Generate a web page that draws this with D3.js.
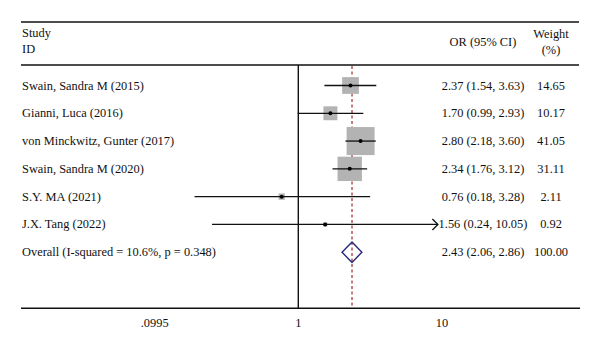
<!DOCTYPE html>
<html>
<head>
<meta charset="utf-8">
<script src="https://cdn.jsdelivr.net/npm/d3@7"></script>
<style>
  body { margin: 0; background: #fff; }
  text { font-family: "Liberation Serif", "DejaVu Serif", serif; fill: #111; }
</style>
</head>
<body>
<div id="chart"></div>
<script>
const studies = ["Swain, Sandra M (2015)", "Gianni, Luca (2016)", "von Minckwitz, Gunter (2017)",
  "Swain, Sandra M (2020)", "S.Y. MA (2021)", "J.X. Tang (2022)"];
const orValues = [2.37, 1.70, 2.80, 2.34, 0.76, 1.56];
const ciLow    = [1.54, 0.99, 2.18, 1.76, 0.18, 0.24];
const ciHigh   = [3.63, 2.93, 3.60, 3.12, 3.28, 10.05];
const weights  = [14.65, 10.17, 41.05, 31.11, 2.11, 0.92];
const overallLabel = "Overall (I-squared = 10.6%, p = 0.348)";
const overall = { or: 2.43, lo: 2.06, hi: 2.86, weight: 100.00 };
const xTicks = [0.0995, 1, 10.05];
const xTickLabels = [".0995", "1", "10"];

const W = 600, H = 348;
const svg = d3.select("#chart").append("svg").attr("width", W).attr("height", H);

const x = d3.scaleLog().domain([0.0995, 10.05]).range([158.7, 437.9]);
const rows = studies.concat([overallLabel]);
const y = d3.scalePoint().domain(rows).range([85.5, 252.2]);
const side = d3.scaleSqrt().domain([0, d3.max(weights)]).range([0, 28]);

const fmt = d3.format(".2f");
const fs = "12.4px";

// frame lines
svg.append("line").attr("x1", 21).attr("x2", 579).attr("y1", 22).attr("y2", 22)
  .attr("stroke", "#111").attr("stroke-width", 1.4);
svg.append("line").attr("x1", 21).attr("x2", 579).attr("y1", 65).attr("y2", 65)
  .attr("stroke", "#111").attr("stroke-width", 1.4);
svg.append("line").attr("x1", 21).attr("x2", 580).attr("y1", 308.3).attr("y2", 308.3)
  .attr("stroke", "#111").attr("stroke-width", 1.4);

// headers
const hdr = [
  { t: "Study", x: 22, y: 37, a: "start" },
  { t: "ID", x: 22, y: 53, a: "start" },
  { t: "OR (95% CI)", x: 483, y: 46, a: "middle" },
  { t: "Weight", x: 551, y: 38, a: "middle" },
  { t: "(%)", x: 551, y: 54, a: "middle" }
];
svg.selectAll(".hdr").data(hdr).enter().append("text")
  .attr("x", d => d.x).attr("y", d => d.y).attr("text-anchor", d => d.a)
  .style("font-size", fs).text(d => d.t);

// null line
svg.append("line").attr("x1", x(1)).attr("x2", x(1)).attr("y1", 65).attr("y2", 308.3)
  .attr("stroke", "#111").attr("stroke-width", 1.4);

// overall dashed line
svg.append("line").attr("x1", x(overall.or)).attr("x2", x(overall.or)).attr("y1", 66).attr("y2", 308)
  .attr("stroke", "#b0474a").attr("stroke-width", 1.4).attr("stroke-dasharray", "3,2.5");

const data = studies.map((s, i) => ({
  study: s, or: orValues[i], lo: ciLow[i], hi: ciHigh[i], w: weights[i]
}));

// squares
svg.selectAll(".box").data(data).enter().append("rect")
  .attr("x", d => x(d.or) - side(d.w) / 2)
  .attr("y", d => y(d.study) - side(d.w) / 2)
  .attr("width", d => side(d.w)).attr("height", d => side(d.w))
  .attr("fill", "#b3b3b3");

// CI lines
svg.selectAll(".ci").data(data).enter().append("line")
  .attr("x1", d => x(d.lo)).attr("x2", d => x(Math.min(d.hi, 10.05)))
  .attr("y1", d => y(d.study)).attr("y2", d => y(d.study))
  .attr("stroke", "#111").attr("stroke-width", 1.3);

// arrow for truncated CI
data.filter(d => d.hi >= 10.05).forEach(d => {
  const xe = x(10.05), yy = y(d.study);
  svg.append("path")
    .attr("d", `M${xe - 5.5},${yy - 5.5}L${xe},${yy}L${xe - 5.5},${yy + 5.5}`)
    .attr("fill", "none").attr("stroke", "#111").attr("stroke-width", 1.3);
});

// point estimates
svg.selectAll(".pt").data(data).enter().append("circle")
  .attr("cx", d => x(d.or)).attr("cy", d => y(d.study)).attr("r", 2)
  .attr("fill", "#000");

// diamond
const yo = y(overallLabel);
svg.append("path")
  .attr("d", `M${x(overall.lo)},${yo}L${x(overall.or)},${yo - 10.3}L${x(overall.hi)},${yo}L${x(overall.or)},${yo + 10.3}Z`)
  .attr("fill", "none").attr("stroke", "#28287a").attr("stroke-width", 1.4);

// text columns
const textRows = data.map(d => ({ label: d.study, or: d.or, lo: d.lo, hi: d.hi, w: d.w }))
  .concat([{ label: overallLabel, or: overall.or, lo: overall.lo, hi: overall.hi, w: overall.weight }]);

svg.selectAll(".lbl").data(textRows).enter().append("text")
  .attr("x", 22).attr("y", d => y(d.label) + 4)
  .style("font-size", fs).text(d => d.label);

svg.selectAll(".orTxt").data(textRows).enter().append("text")
  .attr("x", 483).attr("y", d => y(d.label) + 4).attr("text-anchor", "middle")
  .style("font-size", fs).text(d => `${fmt(d.or)} (${fmt(d.lo)}, ${fmt(d.hi)})`);

svg.selectAll(".wTxt").data(textRows).enter().append("text")
  .attr("x", 551).attr("y", d => y(d.label) + 4).attr("text-anchor", "middle")
  .style("font-size", fs).text(d => fmt(d.w));

// axis labels
svg.selectAll(".tick").data(xTicks).enter().append("text")
  .attr("x", (d, i) => x(d) + (i === 0 ? -4 : i === 2 ? 4 : 0))
  .attr("y", 327).attr("text-anchor", "middle")
  .style("font-size", fs).text((d, i) => xTickLabels[i]);
</script>
</body>
</html>
